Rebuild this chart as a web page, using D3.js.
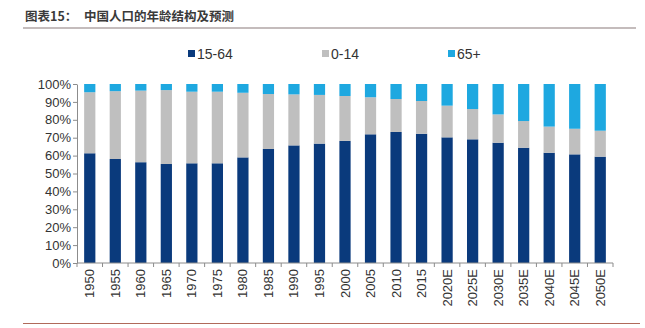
<!DOCTYPE html>
<html><head><meta charset="utf-8">
<script src="https://cdn.jsdelivr.net/npm/d3@7"></script>
<style>body{margin:0;background:#fff;}svg{display:block;}</style>
</head><body>
<script>
const years = ["1950","1955","1960","1965","1970","1975","1980","1985","1990","1995","2000","2005","2010","2015","2020E","2025E","2030E","2035E","2040E","2045E","2050E"];
const age15to64 = [61.3,58.1,56.3,55.3,55.7,55.7,59.0,63.7,65.7,66.7,68.2,71.9,73.2,72.2,70.2,69.1,67.2,64.4,61.6,60.7,59.4];
const age0to14 = [34.1,37.9,40.0,41.3,40.0,40.0,36.1,30.7,28.5,27.2,25.1,20.7,18.4,18.3,17.7,16.9,15.8,14.9,14.6,14.3,14.5];
const age65plus = age15to64.map((v,i)=>+(100 - v - age0to14[i]).toFixed(1));
const yTicks = [0,10,20,30,40,50,60,70,80,90,100];
const seriesNames = ["15-64","0-14","65+"];
const colors = ["#0a3a7c","#bfbfbf","#1ea8e0"];

const W=645,H=328;
const svg=d3.select("body").append("svg").attr("width",W).attr("height",H);
const font="'Liberation Sans', Arial, sans-serif";

// title
svg.append("text").attr("x",25).attr("y",21).attr("font-family","'Noto Sans CJK SC', sans-serif")
  .attr("font-weight","bold").attr("font-size",12.5).attr("fill","#3a3a3a").text("图表15：");
svg.append("text").attr("x",84).attr("y",21).attr("font-family","'Noto Sans CJK SC', sans-serif")
  .attr("font-weight","bold").attr("font-size",12.5).attr("fill","#3a3a3a").text("中国人口的年龄结构及预测");
svg.append("line").attr("x1",23).attr("x2",636).attr("y1",28).attr("y2",28).attr("stroke","#8a7a7a").attr("stroke-width",1.2);
svg.append("line").attr("x1",23).attr("x2",640).attr("y1",323.5).attr("y2",323.5).attr("stroke","#b06a5a").attr("stroke-width",1);

const x=d3.scaleBand().domain(years).range([77,613]).paddingInner(0.56).paddingOuter(0.28);
const y=d3.scaleLinear().domain([0,100]).range([263,84]);

const data=years.map((yr,i)=>({year:yr,"15-64":age15to64[i],"0-14":age0to14[i],"65+":age65plus[i]}));
const stack=d3.stack().keys(seriesNames)(data);

svg.append("g").selectAll("g").data(stack).join("g").attr("fill",(d,i)=>colors[i])
  .selectAll("rect").data(d=>d).join("rect")
  .attr("x",d=>x(d.data.year)).attr("width",x.bandwidth())
  .attr("y",d=>y(Math.min(d[1],100))).attr("height",d=>y(d[0])-y(Math.min(d[1],100)));

// y axis
const ya=svg.append("g").attr("transform","translate(77,0)")
  .call(d3.axisLeft(y).tickValues(yTicks).tickFormat(d=>d+"%").tickSize(4).tickSizeOuter(0));
ya.select(".domain").attr("stroke","#8c8c8c");
ya.selectAll(".tick line").attr("stroke","#8c8c8c");
ya.selectAll("text").attr("font-family",font).attr("font-size",13).attr("fill","#333").attr("x",-6);

// x axis
const xa=svg.append("g").attr("transform","translate(0,263)");
xa.append("line").attr("x1",77).attr("x2",613).attr("stroke","#8c8c8c");
const step=x.step();
const bounds=d3.range(years.length+1).map(i=>77+i*(536/years.length));
xa.selectAll("line.t").data(bounds).join("line").attr("class","t")
  .attr("x1",d=>d).attr("x2",d=>d).attr("y1",0).attr("y2",4).attr("stroke","#8c8c8c");
xa.selectAll("text").data(years).join("text")
  .attr("transform",d=>`translate(${x(d)+x.bandwidth()/2+4.5},6) rotate(-90)`)
  .attr("text-anchor","end").attr("font-family",font).attr("font-size",13).attr("fill","#333").text(d=>d);

// legend
const legX=[188,322,448];
const lg=svg.append("g").selectAll("g").data(seriesNames).join("g")
  .attr("transform",(d,i)=>`translate(${legX[i]},54)`);
lg.append("rect").attr("x",0).attr("y",-4).attr("width",7).attr("height",7).attr("fill",(d,i)=>colors[i]);
lg.append("text").attr("x",9).attr("y",5).attr("font-family",font).attr("font-size",14).attr("fill","#333").text(d=>d);
</script>
</body></html>
